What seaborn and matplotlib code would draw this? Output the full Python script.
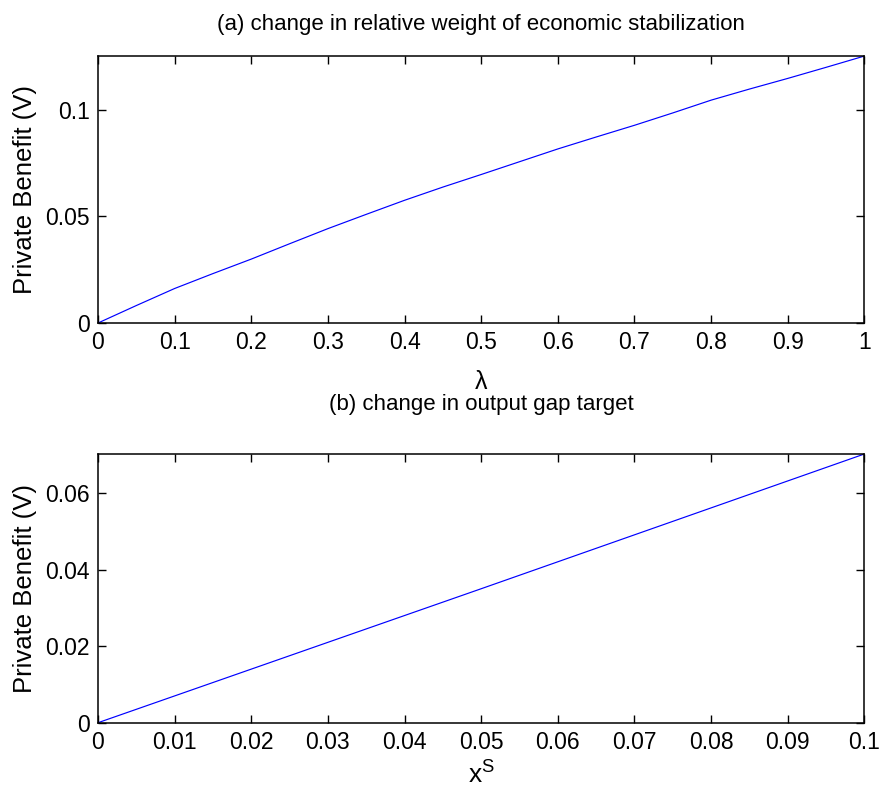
import matplotlib
matplotlib.use("Agg")
import matplotlib.pyplot as plt
import seaborn as sns
import numpy as np
import pandas as pd
from matplotlib.ticker import FuncFormatter

# ---- data ----
lam = [0.0, 0.05, 0.1, 0.15, 0.2, 0.25, 0.3, 0.35, 0.4, 0.45, 0.5,
       0.55, 0.6, 0.65, 0.7, 0.75, 0.8, 0.85, 0.9, 0.95, 1.0]
v_lam = [0.0, 0.0082, 0.0162, 0.0232, 0.0300, 0.0372, 0.0443, 0.0510, 0.0576, 0.0638, 0.0697,
         0.0757, 0.0817, 0.0873, 0.0928, 0.0986, 0.1046, 0.1098, 0.1148, 0.1200, 0.1253]

xs = [0.0, 0.05, 0.1]
v_xs = [0.0, 0.0350, 0.0702]

top_xticks = [0, 0.1, 0.2, 0.3, 0.4, 0.5, 0.6, 0.7, 0.8, 0.9, 1.0]
top_yticks = [0, 0.05, 0.1]
bot_xticks = [0, 0.01, 0.02, 0.03, 0.04, 0.05, 0.06, 0.07, 0.08, 0.09, 0.1]
bot_yticks = [0, 0.02, 0.04, 0.06]

title_a = "(a) change in relative weight of economic stabilization"
title_b = "(b) change in output gap target"
ylab = "Private Benefit (V)"

sns.set_theme(style="ticks")
plt.rcParams["font.family"] = ["Liberation Sans", "DejaVu Sans"]
plt.rcParams["mathtext.default"] = "regular"
plt.rcParams["text.color"] = "black"
plt.rcParams["axes.labelcolor"] = "black"
plt.rcParams["xtick.color"] = "black"
plt.rcParams["ytick.color"] = "black"

fig = plt.figure(figsize=(8.81, 7.97), dpi=100)
ax1 = fig.add_axes([0.1112, 0.5947, 0.8700, 0.3350])
ax2 = fig.add_axes([0.1112, 0.0932, 0.8700, 0.3372])

df1 = pd.DataFrame({"x": lam, "y": v_lam})
df2 = pd.DataFrame({"x": xs, "y": v_xs})
sns.lineplot(data=df1, x="x", y="y", ax=ax1, color=(0, 0, 1), linewidth=0.85)
sns.lineplot(data=df2, x="x", y="y", ax=ax2, color=(0, 0, 1), linewidth=0.85)

fmt = FuncFormatter(lambda v, p: ("%g" % round(v, 6)))

for ax, xt, yt, xl, yl, ttl, tpad in [
    (ax1, top_xticks, top_yticks, (0, 1), (0, 0.1253), title_a, 19),
    (ax2, bot_xticks, bot_yticks, (0, 0.1), (0, 0.0702), title_b, 32),
]:
    ax.set_xlim(*xl)
    ax.set_ylim(*yl)
    ax.set_xticks(xt)
    ax.set_yticks(yt)
    ax.xaxis.set_major_formatter(fmt)
    ax.yaxis.set_major_formatter(fmt)
    ax.tick_params(direction="in", length=6, width=1.0, colors="black",
                   labelcolor="black", top=True, right=True, labelsize=16.5, pad=6)
    for s in ax.spines.values():
        s.set_visible(True)
        s.set_color("black")
        s.set_linewidth(1.1)
    ax.set_title(ttl, fontsize=16, pad=tpad, color="black")
    ax.set_ylabel(ylab, fontsize=18.5, labelpad=6, color="black")
    ax.set_facecolor("white")

ax1.set_xlabel("λ", fontsize=18, labelpad=11)
ax2.set_xlabel(r"$x^{S}$", fontsize=19, labelpad=5)

fig.savefig("out.png", dpi=100, facecolor="white")
